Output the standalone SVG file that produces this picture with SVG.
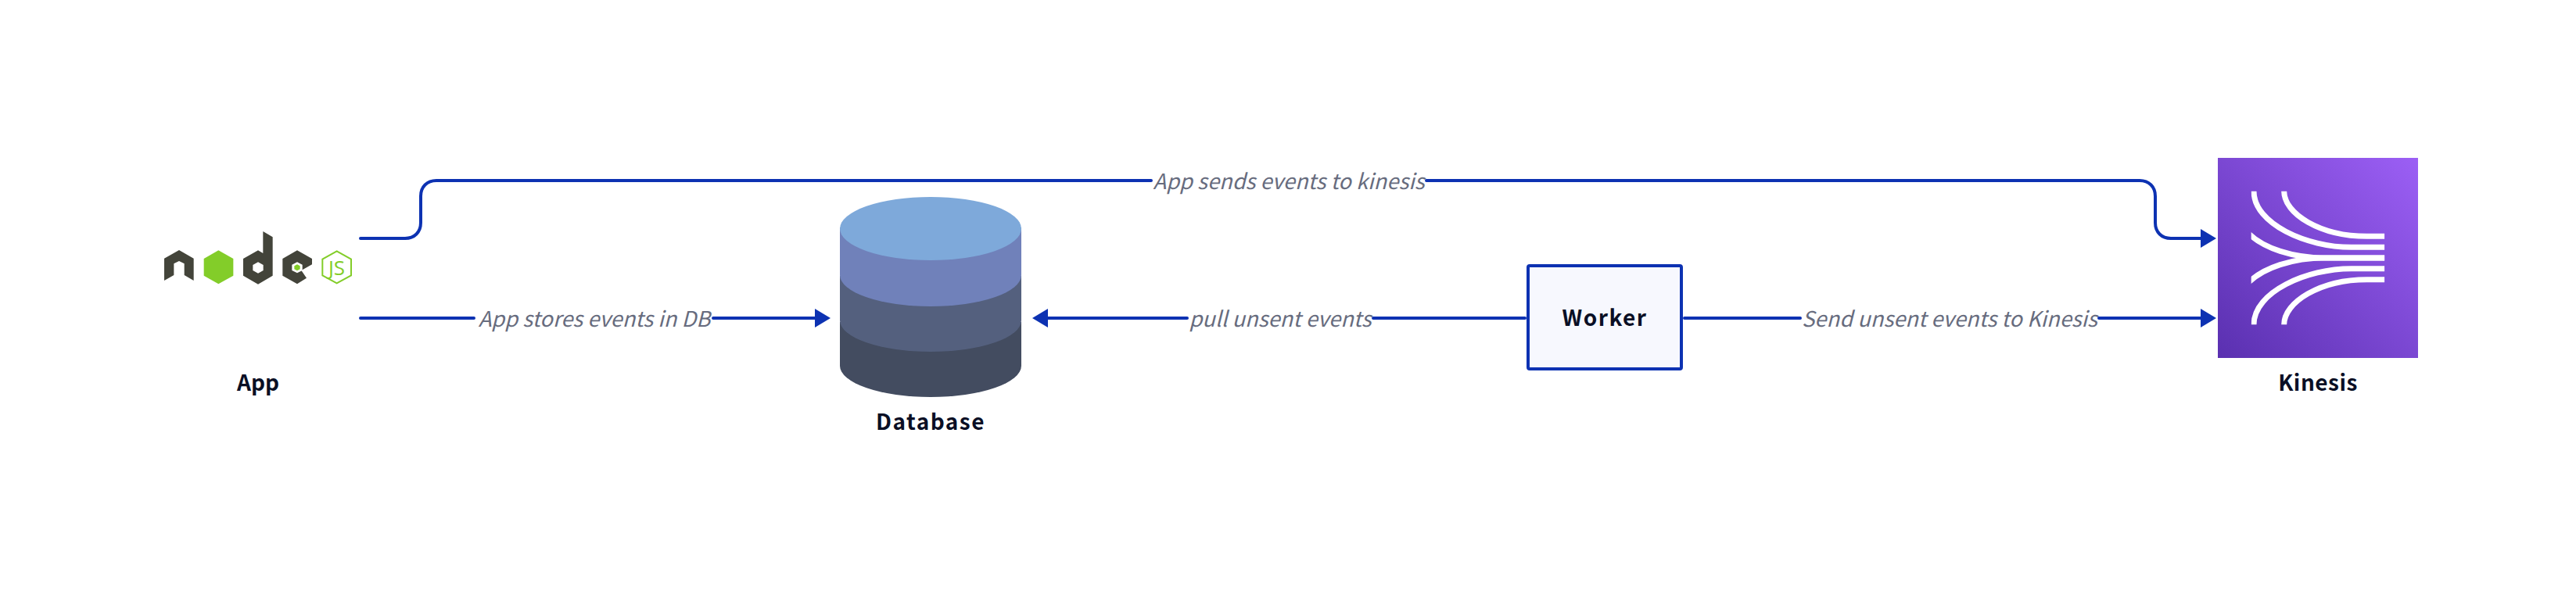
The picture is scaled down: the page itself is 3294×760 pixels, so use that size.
<svg xmlns="http://www.w3.org/2000/svg" width="3294" height="760" viewBox="0 0 3294 760">
<style>
.lbl{font-family:"Noto Sans CJK SC","Liberation Sans",sans-serif;font-weight:700;font-size:28px;fill:#0A0F25;text-anchor:middle}
.edge{font-family:"Noto Sans CJK SC","Liberation Sans",sans-serif;font-style:italic;font-size:27.300px;fill:#676C7E;text-anchor:middle}
.c{fill:none;stroke:#0D32B2;stroke-width:4;stroke-linecap:round}
.k{fill:none;stroke:#fff;stroke-width:21}
</style>
<defs>
<linearGradient id="kg" x1="0" y1="1" x2="1" y2="0"><stop offset="0" stop-color="#5A30B0"/><stop offset="1" stop-color="#9C5FF5"/></linearGradient>
<marker id="ah" markerUnits="userSpaceOnUse" markerWidth="20" markerHeight="24" refX="14" refY="12" orient="auto"><polygon points="0,0 20,12 0,24" fill="#0D32B2"/></marker>
<clipPath id="kc"><rect x="236" y="120" width="512" height="600"/></clipPath>
</defs>
<rect width="3294" height="760" fill="#fff"/>
<g id="connectors">
<path class="c" d="M461 305H518C530 305 538 297 538 285V251C538 239 546 231 558 231H1472M1824 231H2736C2748 231 2756 239 2756 251V285C2756 297 2764 305 2776 305H2828" marker-end="url(#ah)"/>
<path class="c" d="M461 407H606M912 407H1056" marker-end="url(#ah)"/>
<path class="c" d="M1950 407H1756M1518 407H1326" marker-end="url(#ah)"/>
<path class="c" d="M2154 407H2302M2684 407H2828" marker-end="url(#ah)"/>
<text class="edge" x="1648" y="242">App sends events to kinesis</text>
<text class="edge" x="760" y="418">App stores events in DB</text>
<text class="edge" x="1637" y="418">pull unsent events</text>
<text class="edge" x="2493" y="418">Send unsent events to Kinesis</text>
</g>
<g id="app">
<g transform="translate(180 260) scale(.33333)">
<polygon fill="#43443A" points="90,212 147,180 203,212 203,297 167,276 167,232 147,222 127,232 127,276 90,297"/>
<polygon fill="#83CD29" points="298,181 355,213 355,278 298,310 242,278 242,213"/>
<path fill="#43443A" fill-rule="evenodd" d="M469 108L506 130V278L450 311L393 278V213L450 181L469 192ZM450 226L430 237V258L450 269L470 258V237Z"/>
<polygon fill="#43443A" points="600,181 657,213 657,235 616,258 636,287 600,310 544,278 544,213"/>
<polygon fill="#fff" points="600,226 620,236 620,258 600,268 580,258 580,236"/>
<polygon fill="#83CD29" points="600,235 611,241 611,253 600,259 589,253 589,241"/>
<polygon fill="none" stroke="#83CD29" stroke-width="6" points="752,184 807,215 807,277 752,307 697,277 697,215"/>
</g>
<text x="430.500" y="352" font-family="Open Sans,sans-serif" font-size="26" fill="#83CD29" text-anchor="middle">JS</text>
<text class="lbl" x="330" y="500">App</text>
</g>
<g id="database">
<path fill="#434C60" d="M1074 412V468A116 40 0 0 0 1306 468V412Z"/>
<path fill="#54607E" d="M1074 353V410A116 40 0 0 0 1306 410V353Z"/>
<path fill="#7081BA" d="M1074 291V352A116 40 0 0 0 1306 352V291Z"/>
<ellipse cx="1190" cy="292.500" rx="116" ry="40.500" fill="#7EA9DA"/>
<text class="lbl" x="1190" y="550" letter-spacing="1.500">Database</text>
</g>
<g id="worker">
<rect x="1954" y="340" width="196" height="132" rx="2" fill="#F7F8FE" stroke="#0D32B2" stroke-width="4"/>
<text class="lbl" x="2052" y="417" letter-spacing="1.500">Worker</text>
</g>
<g id="kinesis">
<rect x="2836" y="202" width="256" height="256" fill="url(#kg)"/>
<g transform="translate(2800 190) scale(.33333)" clip-path="url(#kc)">
<path class="k" d="M246 164C246 290 450 379 620 379H748"/>
<path class="k" d="M362 164C362 250 500 337 680 337H748"/>
<path class="k" d="M218 318C280 385 400 420 520 420H748"/>
<path class="k" d="M218 522C280 455 400 420 520 420H748"/>
<path class="k" d="M246 676C246 550 450 461 620 461H748"/>
<path class="k" d="M362 676C362 590 500 503 680 503H748"/>
</g>
<text class="lbl" x="2964" y="500" letter-spacing="0.500">Kinesis</text>
</g>
</svg>
